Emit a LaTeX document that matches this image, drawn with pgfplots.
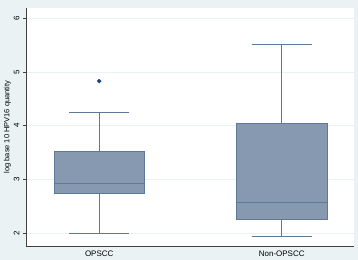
\documentclass[border=0pt]{standalone}
\usepackage{pgfplots}
\pgfplotsset{compat=1.18}
\usepgfplotslibrary{statistics}
\usepackage{fontspec}
\setmainfont{Liberation Sans}
\definecolor{bgc}{HTML}{EAF2F3}
\definecolor{gridc}{HTML}{EAF2F3}
\definecolor{boxfill}{HTML}{8798B1}
\definecolor{boxline}{HTML}{5E7898}
\definecolor{outc}{HTML}{1A476F}
\begin{document}
\begin{tikzpicture}
\fill[bgc] (-26bp,-14bp) rectangle (332bp,246bp);
\path[use as bounding box] (-26bp,-14bp) rectangle (332bp,246bp);
\begin{axis}[
  at={(0,0)}, anchor=south west,
  scale only axis, width=328bp, height=238bp,
  xmin=0.599, xmax=2.396, ymin=1.76, ymax=6.19,
  axis background/.style={fill=white},
  axis x line*=bottom, axis y line*=left,
  axis line style={-, black!75, line width=0.6pt},
  xtick={1,2}, xticklabels={OPSCC,Non-OPSCC},
  x tick label style={font=\fontsize{8}{9}\selectfont, yshift=2pt},
  ytick={2,3,4,5,6},
  y tick label style={rotate=90, font=\fontsize{8}{9}\selectfont, anchor=south},
  major tick length=3pt,
  xtick style={draw=none},
  ytick style={black!75, line width=0.5pt},
  tick align=outside,
  ymajorgrids, grid style={gridc, line width=0.6pt},
  ylabel={log base 10 HPV16 quantity},
  ylabel style={font=\fontsize{7.5}{8}\selectfont, yshift=-4pt},
  /pgf/number format/assume math mode=true,
  boxplot/draw direction=y,
  clip=false,
]
\addplot[boxplot prepared={lower whisker=2.0, lower quartile=2.745, median=2.925, upper quartile=3.53, upper whisker=4.25, draw position=1, box extend=0.495, whisker extend=0.33},
  draw=boxline, fill=boxfill, line width=0.7pt, mark=*, mark size=1.8pt, mark options={fill=outc, draw=outc}]
  coordinates {(0,4.83)};
\addplot[boxplot prepared={lower whisker=1.94, lower quartile=2.26, median=2.57, upper quartile=4.05, upper whisker=5.51, draw position=2, box extend=0.495, whisker extend=0.33},
  draw=boxline, fill=boxfill, line width=0.7pt]
  coordinates {};
\end{axis}
\end{tikzpicture}
\end{document}
